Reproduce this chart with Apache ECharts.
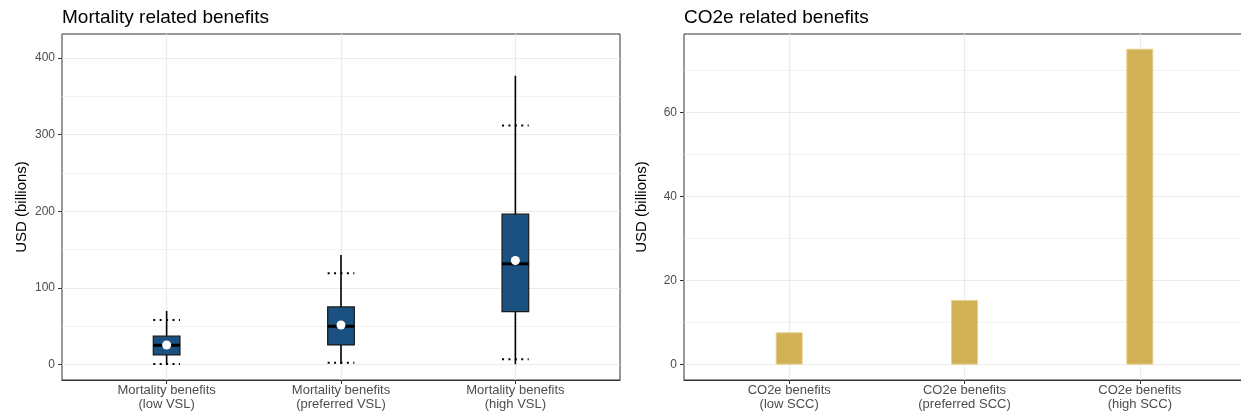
<!DOCTYPE html>
<html>
<head>
<meta charset="utf-8">
<script src="https://cdn.jsdelivr.net/npm/echarts@6/dist/echarts.min.js"></script>
<style>
html,body{margin:0;padding:0;background:#fff;}
#c{width:1241px;height:419px;}
</style>
</head>
<body>
<div id="c"></div>
<script>
// ---- data ----
const mortalityCategories = ['Mortality benefits\n(low VSL)', 'Mortality benefits\n(preferred VSL)', 'Mortality benefits\n(high VSL)'];
const mortalityMin    = [0.5, 0.8, 0.5];
const mortalityP5     = [0.9, 2.6, 7.0];
const mortalityQ1     = [12.7, 25.7, 69.2];
const mortalityMedian = [25.3, 50.1, 131.5];
const mortalityQ3     = [37.1, 75.3, 196.3];
const mortalityP95    = [58.4, 119.3, 312.0];
const mortalityMax    = [70.1, 143.2, 376.9];
const mortalityMean   = [25.7, 51.8, 135.8];
const mortalityTicks  = [0, 100, 200, 300, 400];
const mortalityMinor  = [50, 150, 250, 350];

const co2Categories = ['CO2e benefits\n(low SCC)', 'CO2e benefits\n(preferred SCC)', 'CO2e benefits\n(high SCC)'];
const co2Values     = [7.7, 15.4, 75.2];
const co2Ticks      = [0, 20, 40, 60];
const co2Minor      = [10, 30, 50, 70];

const catPositions = [1, 2, 3];

// ---- build ----
const FONT = 'Liberation Sans, Arial, Helvetica, sans-serif';
const boxRows = catPositions.map((p, i) => [p, mortalityMin[i], mortalityP5[i], mortalityQ1[i], mortalityMedian[i], mortalityQ3[i], mortalityP95[i], mortalityMax[i], mortalityMean[i]]);
const barRows = catPositions.map((p, i) => [p, co2Values[i]]);

function xAxisFor(gridIndex, labels, max) {
  return {
    type: 'value', gridIndex, min: 0.4, max: max, position: 'bottom',
    axisLine: {show: true, onZero: false, lineStyle: {color: '#333333', width: 1}},
    axisTick: {show: true, length: 4, customValues: catPositions, lineStyle: {color: '#333333'}},
    axisLabel: {customValues: catPositions, color: '#4d4d4d', fontSize: 13, lineHeight: 13.5, margin: 4, fontFamily: FONT,
      formatter: v => labels[Math.round(v) - 1] || ''},
    splitLine: {show: true, lineStyle: {color: '#ebebeb', width: 1.2}}
  };
}
function yAxisFor(gridIndex, min, max, ticks, gap) {
  return {
    type: 'value', gridIndex, min, max, position: 'left',
    name: 'USD (billions)', nameLocation: 'middle', nameGap: gap, nameRotate: 90,
    nameTextStyle: {color: '#000', fontSize: 15, fontFamily: FONT},
    axisLine: {show: false, onZero: false},
    axisTick: {show: true, length: 4, customValues: ticks, lineStyle: {color: '#333333'}},
    axisLabel: {customValues: ticks, color: '#4d4d4d', fontSize: 12, margin: 7, fontFamily: FONT},
    splitLine: {show: true, lineStyle: {color: '#ebebeb', width: 1.2}}
  };
}
function yMinorFor(gridIndex, min, max, ticks) {
  return {
    type: 'value', gridIndex, min, max, position: 'left',
    axisLine: {show: false, onZero: false},
    axisTick: {show: false, customValues: ticks},
    axisLabel: {show: false, customValues: ticks},
    splitLine: {show: true, lineStyle: {color: '#efefef', width: 0.8}}
  };
}

const chart = echarts.init(document.getElementById('c'), null, {renderer: 'canvas'});
chart.setOption({
  animation: false,
  backgroundColor: '#ffffff',
  title: [
    {text: 'Mortality related benefits', left: 62, top: 8, padding: 0, textStyle: {fontSize: 19, fontWeight: 'normal', color: '#000', fontFamily: FONT}},
    {text: 'CO2e related benefits', left: 684, top: 8, padding: 0, textStyle: {fontSize: 19, fontWeight: 'normal', color: '#000', fontFamily: FONT}}
  ],
  grid: [
    {left: 62, right: 621, top: 34, bottom: 39, outerBoundsMode: 'none', containLabel: false, show: true, borderColor: '#333333', borderWidth: 1, backgroundColor: 'transparent'},
    {left: 684, right: -4, top: 34, bottom: 39, outerBoundsMode: 'none', containLabel: false, show: true, borderColor: '#333333', borderWidth: 1, backgroundColor: 'transparent'}
  ],
  xAxis: [
    xAxisFor(0, mortalityCategories, 3.6),
    xAxisFor(1, co2Categories, 3.6)
  ],
  yAxis: [
    yMinorFor(0, -20, 431.3, mortalityMinor),
    yAxisFor(0, -20, 431.3, mortalityTicks, 33),
    yMinorFor(1, -3.65, 78.7, co2Minor),
    yAxisFor(1, -3.65, 78.7, co2Ticks, 35)
  ],
  series: [
    {
      type: 'custom', xAxisIndex: 0, yAxisIndex: 1, data: boxRows, z: 5,
      renderItem: function (params, api) {
        const x = api.value(0);
        const c = v => api.coord([x, v]);
        const half = api.size([0.153, 0])[0] / 2;
        const pMin = c(api.value(1)), pP5 = c(api.value(2)), pQ1 = c(api.value(3)), pMed = c(api.value(4)),
              pQ3 = c(api.value(5)), pP95 = c(api.value(6)), pMax = c(api.value(7)), pMean = c(api.value(8));
        const cx = pMin[0];
        const dotted = {stroke: '#000', lineWidth: 2, lineDash: [2, 4.4]};
        return {
          type: 'group',
          children: [
            {type: 'line', shape: {x1: cx, y1: pMin[1], x2: cx, y2: pMax[1]}, style: {stroke: '#000', lineWidth: 1.6}},
            {type: 'line', shape: {x1: cx - half, y1: pP5[1], x2: cx + half, y2: pP5[1]}, style: dotted},
            {type: 'line', shape: {x1: cx - half, y1: pP95[1], x2: cx + half, y2: pP95[1]}, style: dotted},
            {type: 'rect', shape: {x: cx - half, y: pQ3[1], width: half * 2, height: pQ1[1] - pQ3[1]},
              style: {fill: '#1b5181', stroke: '#1a1a1a', lineWidth: 1.2}},
            {type: 'line', shape: {x1: cx - half, y1: pMed[1], x2: cx + half, y2: pMed[1]}, style: {stroke: '#000', lineWidth: 3}},
            {type: 'circle', shape: {cx: cx, cy: pMean[1], r: 4.5}, style: {fill: '#ffffff'}}
          ]
        };
      }
    },
    {
      type: 'bar', xAxisIndex: 1, yAxisIndex: 3, data: barRows, barWidth: 27, z: 5,
      itemStyle: {color: '#d0b155', borderColor: '#e6d18f', borderWidth: 1}
    }
  ]
});
</script>
</body>
</html>
